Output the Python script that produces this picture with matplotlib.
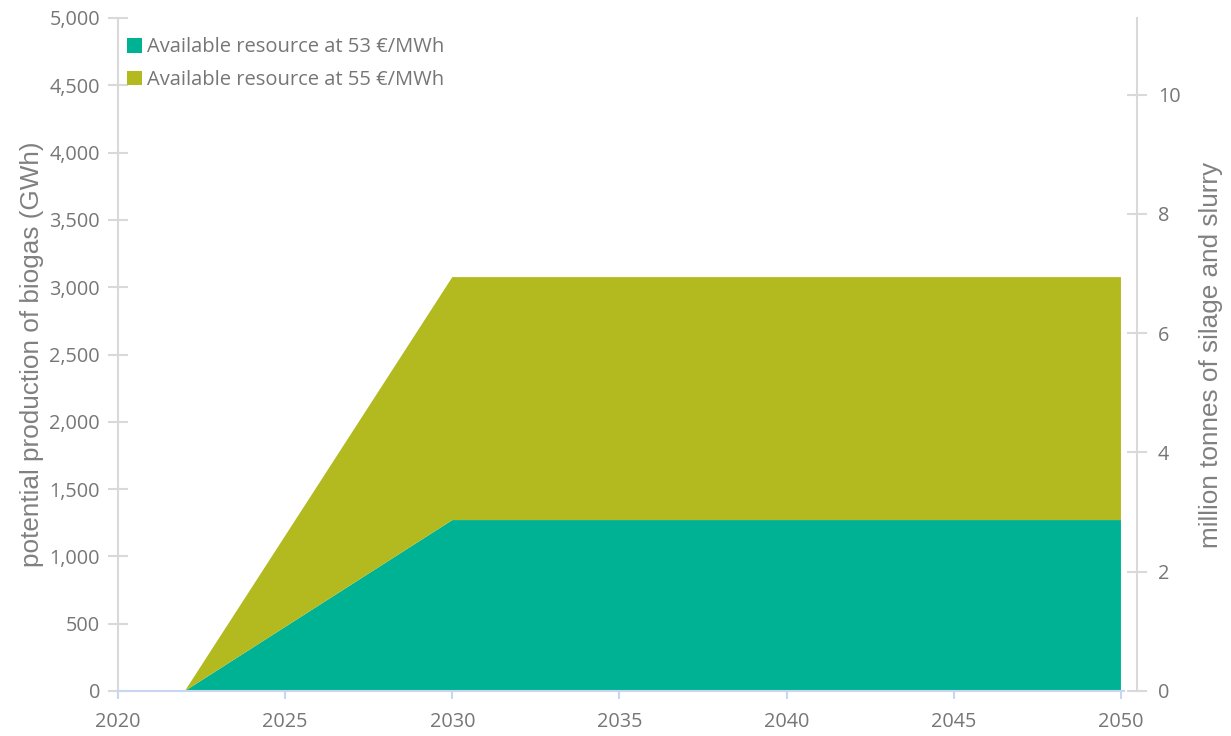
import matplotlib
matplotlib.use("Agg")
import matplotlib.pyplot as plt
from matplotlib.ticker import FuncFormatter

years = [2020, 2022, 2030, 2050]
res_53 = [0, 0, 1270, 1270]
res_55_extra = [0, 0, 1805, 1805]
labels = ["Available resource at 53 €/MWh", "Available resource at 55 €/MWh"]
colors = ["#00B294", "#B2BA20"]
x_ticks = [2020, 2025, 2030, 2035, 2040, 2045, 2050]
left_ticks = list(range(0, 5001, 500))
right_ticks = [0, 2, 4, 6, 8, 10]

plt.rcParams['font.family'] = ['Open Sans', 'DejaVu Sans']
grey = "#767676"
spine_c = "#D9D9D9"
xaxis_c = "#C9D6F2"
label_font = ['Liberation Sans', 'DejaVu Sans']

fig = plt.figure(figsize=(12.31, 7.36), dpi=100)
ax = fig.add_axes([118/1231, 1-691/736, (1137-118)/1231, (691-18)/736])
ax.stackplot(years, res_53, res_55_extra, colors=colors, labels=labels, linewidth=0)
ax.set_xlim(2020, 2050.48)
ax.set_ylim(0, 5000)
ax.set_xticks(x_ticks)
ax.set_yticks(left_ticks)
ax.yaxis.set_major_formatter(FuncFormatter(lambda v, p: f"{int(v):,}"))
for s in ["top", "right"]:
    ax.spines[s].set_visible(False)
ax.spines["left"].set_color(spine_c)
ax.spines["left"].set_linewidth(1.5)
ax.spines["bottom"].set_color(xaxis_c)
ax.spines["bottom"].set_linewidth(1.5)
ax.spines["bottom"].set_bounds(2020, 2050.1)
ax.tick_params(axis="y", direction="inout", length=14, width=1.5, color=spine_c,
               labelcolor=grey, labelsize=14.3, pad=6)
ax.tick_params(axis="x", direction="out", length=6, width=1.5, color=xaxis_c,
               labelcolor=grey, labelsize=14.3, pad=9)
ax.set_ylabel("potential production of biogas (GWh)", color="#808080", fontsize=18.8,
              family=label_font, labelpad=4)

ax2 = ax.twinx()
ax2.set_ylim(0, 5000 * 10 / 4430)
ax2.set_yticks(right_ticks)
for s in ["top", "left", "bottom"]:
    ax2.spines[s].set_visible(False)
ax2.spines["right"].set_color(spine_c)
ax2.spines["right"].set_linewidth(1.5)
ax2.tick_params(axis="y", direction="inout", length=14, width=1.5, color=spine_c,
                labelcolor=grey, labelsize=14.3, pad=8)
ax2.set_ylabel("million tonnes of silage and slurry", color="#808080", fontsize=18.8,
               family=label_font, labelpad=13)

leg = ax.legend(loc="upper left", bbox_to_anchor=(0.0, 0.985), frameon=False,
                fontsize=14.5, labelcolor=grey, handlelength=0.75, handleheight=0.75,
                handletextpad=0.25, labelspacing=0.64, borderaxespad=0.05)

fig.savefig("out.png", dpi=100)
